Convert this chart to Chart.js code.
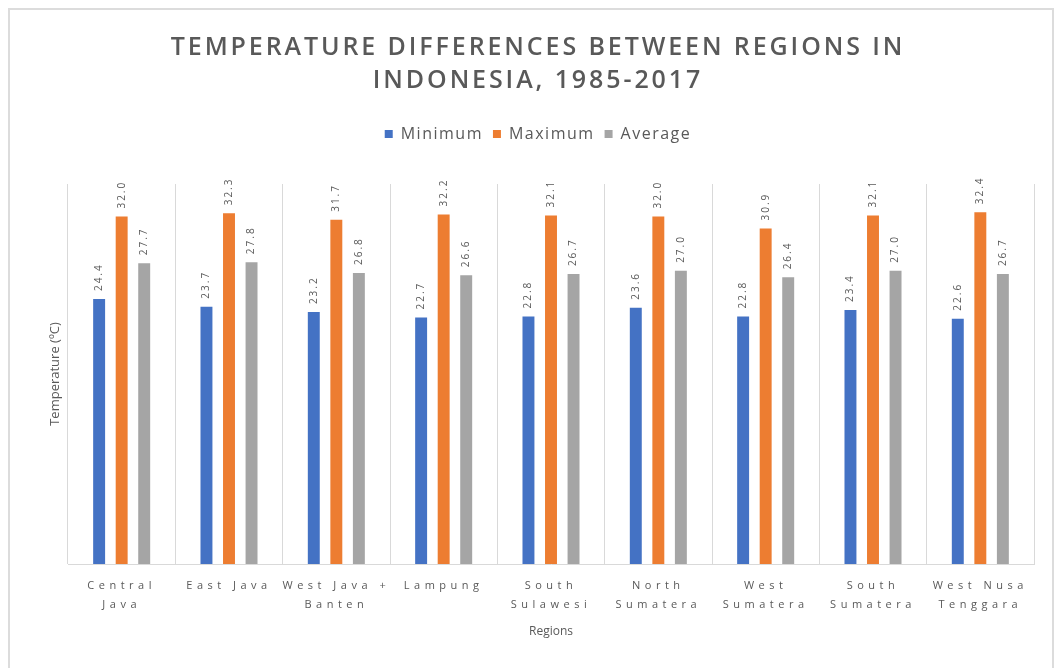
<!DOCTYPE html>
<html>
<head>
<meta charset="utf-8">
<script src="https://cdn.jsdelivr.net/npm/chart.js@4"></script>
<style>
  html, body { margin: 0; padding: 0; background: #fff; overflow: hidden; }
  #frame { position: absolute; left: 8px; top: 8px; width: 1042px; height: 700px; border: 2px solid #dcdcdc; border-bottom: none; }
  #chart { position: absolute; left: 0; top: 0; }
</style>
</head>
<body>
<div id="frame"></div>
<canvas id="chart" width="1059" height="668"></canvas>
<script>
// Regio's (meerregelige labels)
const regions = [
  ["Central", "Java"],
  ["East Java"],
  ["West Java +", "Banten"],
  ["Lampung"],
  ["South", "Sulawesi"],
  ["North", "Sumatera"],
  ["West", "Sumatera"],
  ["South", "Sumatera"],
  ["West Nusa", "Tenggara"],
];
const minimum = [24.4, 23.7, 23.2, 22.7, 22.8, 23.6, 22.8, 23.4, 22.6];
const maximum = [32.0, 32.3, 31.7, 32.2, 32.1, 32.0, 30.9, 32.1, 32.4];
const average = [27.7, 27.8, 26.8, 26.6, 26.7, 27.0, 26.4, 27.0, 26.7];
const titleLines = ["TEMPERATURE DIFFERENCES BETWEEN REGIONS IN", "INDONESIA, 1985-2017"];

const textColor = "#595959";
const font = "'Open Sans', sans-serif";

// Tekst met letterafstand tekenen (Chart.js heeft daar geen optie voor)
function withSpacing(chart, obj, name, spacing, extra) {
  const orig = obj[name];
  obj[name] = function (...args) {
    const ctx = chart.ctx;
    const old = ctx.letterSpacing;
    ctx.letterSpacing = spacing;
    const r = orig.apply(this, args);
    ctx.letterSpacing = old;
    if (extra) extra(this);
    return r;
  };
}

const spacingPlugin = {
  id: "spacing",
  beforeLayout(chart) {
    if (chart._spaced) return;
    chart._spaced = true;
    withSpacing(chart, chart.titleBlock, "draw", "2.9px");
    withSpacing(chart, chart.legend, "fit", "1.5px", (lg) => { lg.height += 32; });
    withSpacing(chart, chart.legend, "draw", "1.5px");
  },
  beforeDraw(chart) {
    const x = chart.scales.x;
    if (!x._spaced) {
      x._spaced = true;
      withSpacing(chart, x, "drawLabels", "4.5px");
    }
  },
};

// Waarden boven de balken, gedraaid
const barLabels = {
  id: "barLabels",
  afterDatasetsDraw(chart) {
    const ctx = chart.ctx;
    ctx.save();
    ctx.font = "10px " + font;
    ctx.fillStyle = textColor;
    ctx.letterSpacing = "2px";
    ctx.textAlign = "left";
    ctx.textBaseline = "middle";
    chart.data.datasets.forEach((ds, i) => {
      chart.getDatasetMeta(i).data.forEach((bar, j) => {
        ctx.save();
        ctx.translate(bar.x, bar.y - 8);
        ctx.rotate(-Math.PI / 2);
        ctx.fillText(ds.data[j].toFixed(1), 0, 0);
        ctx.restore();
      });
    });
    ctx.restore();
  },
};

new Chart(document.getElementById("chart"), {
  type: "bar",
  data: {
    labels: regions,
    datasets: [
      { label: "Minimum", data: minimum, backgroundColor: "#4472C4" },
      { label: "Maximum", data: maximum, backgroundColor: "#ED7D31" },
      { label: "Average", data: average, backgroundColor: "#A5A5A5" },
    ],
  },
  options: {
    responsive: false,
    animation: false,
    events: [],
    layout: { padding: { left: 42, right: 25, top: 0, bottom: 0 } },
    datasets: {
      bar: { categoryPercentage: 0.63, barPercentage: 0.53 },
    },
    plugins: {
      title: {
        display: true,
        text: titleLines,
        color: textColor,
        font: { family: font, size: 25, weight: "600", lineHeight: 1.32 },
        padding: { top: 31, bottom: 19 },
      },
      legend: {
        display: true,
        position: "top",
        labels: {
          color: textColor,
          font: { family: font, size: 16 },
          boxWidth: 8,
          boxHeight: 8,
          padding: 10,
        },
      },
      tooltip: { enabled: false },
    },
    scales: {
      x: {
        grid: { offset: true, color: "#d9d9d9", drawTicks: false },
        border: { color: "#d9d9d9" },
        ticks: {
          color: textColor,
          font: { family: font, size: 11, lineHeight: 1.7 },
          padding: 13,
          maxRotation: 0,
          autoSkip: false,
        },
        title: {
          display: true,
          text: "Regions",
          color: textColor,
          font: { family: font, size: 12 },
          padding: { top: 0, bottom: 29 },
        },
        afterFit(scale) { scale.height = 104; },
      },
      y: {
        min: 0,
        max: 35,
        ticks: { display: false },
        grid: { display: false },
        border: { display: false },
        title: {
          display: true,
          text: "Temperature (ºC)",
          color: textColor,
          font: { family: font, size: 13 },
          padding: { top: 5, bottom: 0 },
        },
        afterFit(scale) { scale.width = 26; },
      },
    },
  },
  plugins: [spacingPlugin, barLabels],
});
</script>
</body>
</html>
